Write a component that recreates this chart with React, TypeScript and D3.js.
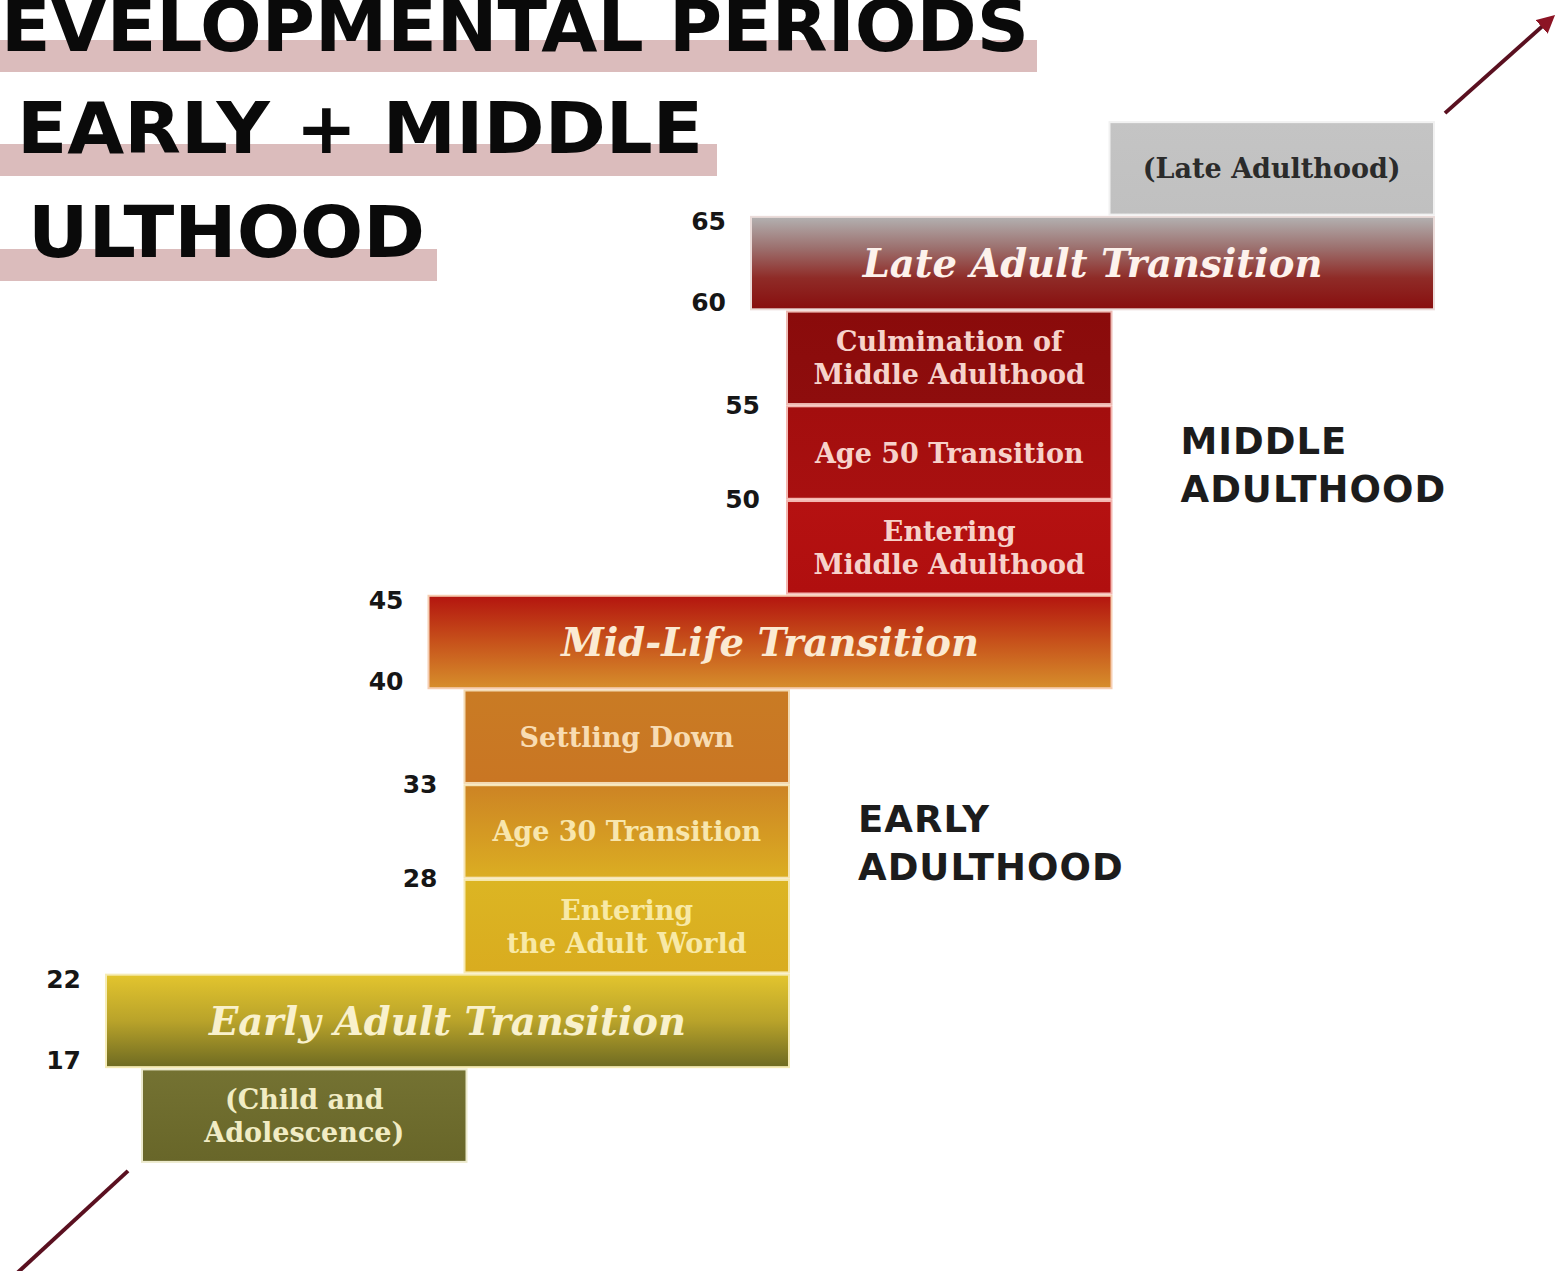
import React from 'react';
import * as d3 from 'd3';

// Levinson's developmental periods, bottom (childhood) to top (late adulthood)
const periodLabels = [
  '(Child and\nAdolescence)',
  'Early Adult Transition',
  'Entering\nthe Adult World',
  'Age 30 Transition',
  'Settling Down',
  'Mid-Life Transition',
  'Entering\nMiddle Adulthood',
  'Age 50 Transition',
  'Culmination of\nMiddle Adulthood',
  'Late Adult Transition',
  '(Late Adulthood)',
];
const startAges = [0, 17, 22, 28, 33, 40, 45, 50, 55, 60, 65];
const endAges = [17, 22, 28, 33, 40, 45, 50, 55, 60, 65, 80];
const columns = [0, 0, 1, 1, 1, 1, 2, 2, 2, 2, 3];
const kinds = ['era', 'transition', 'stable', 'stable', 'stable', 'transition', 'stable', 'stable', 'stable', 'transition', 'era'];
const ageMarks = [17, 22, 28, 33, 40, 45, 50, 55, 60, 65];
const eraNames = [['EARLY', 'ADULTHOOD'], ['MIDDLE', 'ADULTHOOD']];
const eraSpans = [[22, 40], [45, 60]];
// the title is cropped at the left edge in the source; only the visible part is kept
const titleLines = ['EVELOPMENTAL PERIODS', 'EARLY + MIDDLE', 'ULTHOOD'];

// fills per row: gradient stops (top -> bottom), gap halo, text colour
const palette = [
  { stops: ['#747232', '#686629'], halo: '#e9e6c4', text: '#f1ecc4' },
  { stops: ['#e2c42e', '#b9a32a', '#706c22'], halo: '#f5e9a8', text: '#f9f1cc' },
  { stops: ['#dcb523', '#d9ac1f'], halo: '#f6e6a4', text: '#f8e9a6' },
  { stops: ['#cd8424', '#dbad22'], halo: '#f4dfa6', text: '#f8e6ad' },
  { stops: ['#c97b24', '#c97623'], halo: '#f1d3a4', text: '#f8dcb2' },
  { stops: ['#b4160f', '#c7521b', '#d68d2b'], halo: '#f4c6a4', text: '#fbead2' },
  { stops: ['#b51111', '#b00f0f'], halo: '#f2aaa2', text: '#f7d2ca' },
  { stops: ['#a30e0e', '#a81010'], halo: '#f2aaa2', text: '#f7d2ca' },
  { stops: ['#8a0b0b', '#8e0d0d'], halo: '#ebb0a8', text: '#f6d3cb' },
  { stops: ['#b2afaf', '#9c706e', '#8f2b27', '#880f0f'], halo: '#e8d6d4', text: '#fdf2ec' },
  { stops: ['#c4c4c4', '#c0c0c0'], halo: '#eeeeee', text: '#2b2b2b' },
];

const W = 1560;
const H = 1271;

const App = () => {
  const n = periodLabels.length;
  const y = d3.scaleBand<number>()
    .domain(d3.range(n).reverse())
    .range([121, 1163])
    .paddingInner(0.045)
    .paddingOuter(0.0225);
  const x = d3.scaleLinear().domain([0, 4]).range([143, 1433]);
  const overhang = 36;
  const bw = y.bandwidth();

  const x0 = (i: number) => (kinds[i] === 'transition' ? x(columns[i]) - overhang : x(columns[i]));
  const x1 = (i: number) => (kinds[i] === 'transition' ? x(columns[i] + 2) : x(columns[i] + 1));
  const top = (i: number) => y(i) as number;

  // age marks sit on transition edges or between stable periods
  const ageLabelPos = (age: number) => {
    const s = startAges.indexOf(age);
    const e = endAges.indexOf(age);
    if (kinds[s] === 'transition') return { x: x0(s) - 26, y: top(s) + bw - 6 };
    if (kinds[e] === 'transition') return { x: x0(e) - 26, y: top(e) + 4 };
    return { x: x0(s) - 28, y: (top(s) + top(e) + bw) / 2 };
  };

  const serif = '"DejaVu Serif", serif';
  const sans = '"DejaVu Sans", sans-serif';

  // arrows continue the staircase diagonal off the corners
  const arrowLow = { x: x0(0) - 15, y: top(0) + bw + 10 };
  const arrowHigh = { x: x1(n - 1) + 12, y: top(n - 1) - 10 };

  return (
    <svg width={W} height={H} style={{ position: 'absolute', left: 0, top: 0, background: '#fff' }}>
      <defs>
        {palette.map((p, i) => (
          <linearGradient key={i} id={`grad${i}`} x1="0" y1="0" x2="0" y2="1">
            {p.stops.map((c, k) => (
              <stop key={k} offset={p.stops.length === 1 ? 0 : k / (p.stops.length - 1)} stopColor={c} />
            ))}
          </linearGradient>
        ))}
        <marker id="arrowHead" viewBox="0 0 10 10" refX="4" refY="5" markerWidth="4.5" markerHeight="4.5" orient="auto">
          <path d="M0,0 L10,5 L0,10 z" fill="#8c1424" />
        </marker>
      </defs>

      {/* title with highlighter bars */}
      <g fontFamily={sans} fontWeight="bold" fill="#0a0a0a">
        <rect x={0} y={40} width={1037} height={32} fill="#dbbcbc" />
        <rect x={0} y={144} width={717} height={32} fill="#dbbcbc" />
        <rect x={0} y={249} width={437} height={32} fill="#dbbcbc" />
        <text x={1} y={51} fontSize={72} textLength={1028} lengthAdjust="spacingAndGlyphs">{titleLines[0]}</text>
        <text x={17} y={153} fontSize={72} textLength={686} lengthAdjust="spacingAndGlyphs">{titleLines[1]}</text>
        <text x={28} y={257} fontSize={72} textLength={397} lengthAdjust="spacingAndGlyphs">{titleLines[2]}</text>
      </g>

      {/* halos fill the gaps between blocks */}
      {periodLabels.map((_, i) => (
        <rect key={`h${i}`} x={x0(i) - 2} y={top(i) - 2} width={x1(i) - x0(i) + 4} height={bw + 4}
          fill={palette[i].halo} opacity={0.85} />
      ))}
      {periodLabels.map((_, i) => (
        <rect key={`b${i}`} x={x0(i)} y={top(i)} width={x1(i) - x0(i)} height={bw} fill={`url(#grad${i})`} />
      ))}

      {periodLabels.map((label, i) => {
        const lines = label.split('\n');
        const cx = (x0(i) + x1(i)) / 2;
        const cy = top(i) + bw / 2;
        const isTransition = kinds[i] === 'transition';
        return (
          <text key={`t${i}`} x={cx} y={cy} textAnchor="middle" dominantBaseline="central"
            fontFamily={serif} fontWeight="bold" fontStyle={isTransition ? 'italic' : 'normal'}
            fontSize={isTransition ? 38.5 : 27} fill={palette[i].text}>
            {lines.map((ln, k) => (
              <tspan key={k} x={cx} dy={k === 0 ? -(lines.length - 1) * 16.5 : 33}>{ln}</tspan>
            ))}
          </text>
        );
      })}

      {ageMarks.map((age) => {
        const p = ageLabelPos(age);
        return (
          <text key={`a${age}`} x={p.x} y={p.y} textAnchor="end" dominantBaseline="central"
            fontFamily={sans} fontWeight="bold" fontSize={25} fill="#161616">{age}</text>
        );
      })}

      {eraSpans.map((span, k) => {
        const inside = d3.range(n).filter((i) => kinds[i] === 'stable' && startAges[i] >= span[0] && endAges[i] <= span[1]);
        const mid = inside[Math.floor(inside.length / 2)];
        const ex = x(columns[mid] + 1) + 70;
        const ey = top(mid) + bw / 2 + 1;
        return (
          <text key={`e${k}`} fontFamily={sans} fontWeight="bold" fontSize={37} fill="#1c1c1c" letterSpacing={1}>
            {eraNames[k].map((w, j) => (
              <tspan key={j} x={ex} y={ey + j * 48}>{w}</tspan>
            ))}
          </text>
        );
      })}

      <line x1={arrowLow.x} y1={arrowLow.y} x2={arrowLow.x - 115} y2={arrowLow.y + 106}
        stroke="#5a1020" strokeWidth={4} />
      <line x1={arrowHigh.x} y1={arrowHigh.y} x2={arrowHigh.x + 102} y2={arrowHigh.y - 91}
        stroke="#5a1020" strokeWidth={4} markerEnd="url(#arrowHead)" />
    </svg>
  );
};

export default App;
